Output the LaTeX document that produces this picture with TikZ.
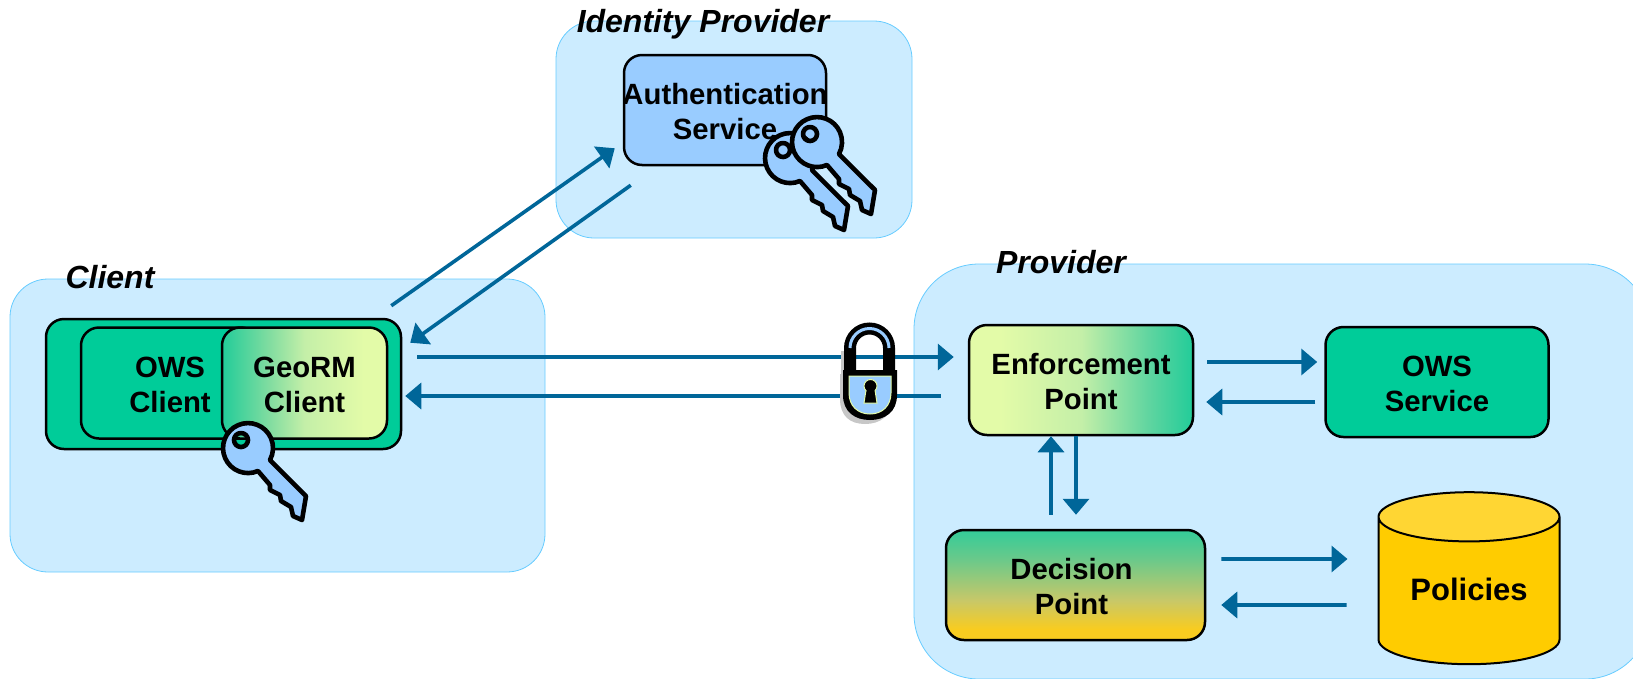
\documentclass[tikz,border=0pt]{standalone}
\usepackage{fontspec}
\setmainfont{Liberation Sans}
\usetikzlibrary{arrows.meta,shapes.geometric}

\definecolor{panelfill}{HTML}{CCECFF}
\definecolor{paneledge}{HTML}{66CCFF}
\definecolor{owsgreen}{HTML}{00CC99}
\definecolor{keyblue}{HTML}{99CCFF}
\definecolor{flowblue}{HTML}{006699}
\definecolor{softyellow}{HTML}{E3FBA8}
\definecolor{goldfill}{HTML}{FFCC00}
\definecolor{goldtop}{HTML}{FFD633}
\definecolor{goldsoft}{HTML}{F8CC20}
\definecolor{oliveband}{HTML}{C8C868}
\definecolor{sageband}{HTML}{6BC98A}
\definecolor{topgreen}{HTML}{33CC99}
\definecolor{deepmint}{HTML}{22CC99}
\definecolor{midmint}{HTML}{7FDCA0}
\definecolor{palemint}{HTML}{C4EFA8}
\definecolor{strongmint}{HTML}{60D5A0}

\pgfdeclarehorizontalshading{georm}{100bp}{color(0bp)=(deepmint); color(25bp)=(deepmint); color(39bp)=(midmint); color(50bp)=(palemint); color(68bp)=(softyellow); color(100bp)=(softyellow)}
\pgfdeclarehorizontalshading{enforce}{100bp}{color(0bp)=(softyellow); color(32bp)=(softyellow); color(50bp)=(palemint); color(65bp)=(strongmint); color(75bp)=(deepmint); color(100bp)=(deepmint)}
\pgfdeclareverticalshading{decide}{100bp}{color(0bp)=(goldsoft); color(30bp)=(goldsoft); color(43bp)=(oliveband); color(61.5bp)=(sageband); color(75bp)=(topgreen); color(100bp)=(topgreen)}

\newcommand{\lowertext}[1]{\raisebox{-1.8pt}[\height][\depth]{#1}}

\tikzset{
    panel/.style={draw=paneledge,fill=panelfill,line width=0.8pt,rounded corners=38pt,inner sep=0pt},
    box/.style={draw=black,line width=2.5pt,rounded corners=18pt,inner sep=0pt,align=center,
        font=\fontsize{29.3}{35}\selectfont\bfseries},
    paneltitle/.style={inner sep=0pt,font=\fontsize{32}{36}\selectfont\bfseries\itshape},
    flow/.style={draw=flowblue,line width=3.6pt,-{Triangle[length=16pt,width=26pt]}},
    keypic/.pic={
        \path[draw=black,fill=keyblue,line width=4.6pt,line join=round,even odd rule]
            (10,23) arc[start angle=-66.5,end angle=-388.6,radius=25pt]
            -- (58,48) -- (54,72) -- (45,68) -- (43,59) -- (33,53) -- (32,47) -- (22,42) -- (22,37) -- cycle
            (-7,-8) circle[radius=7pt];
    },
    lockpic/.pic={
        \path[fill=black!22] (-30,1) -- (22,1) -- (22,26) .. controls (22,43) and (10,51) .. (-5,51)
            .. controls (-20,51) and (-30,43) .. (-30,26) -- cycle;
        \path[draw=black!22,line width=12pt] (-23,4) -- (-23,-22);
        \path[fill=black] (-27,-3) -- (27,-3) -- (27,22) .. controls (27,39) and (15,47) .. (0,47)
            .. controls (-15,47) and (-27,39) .. (-27,22) -- cycle;
        \path[draw=black,line width=12pt] (-20,-1) -- (-20,-25) arc[start angle=180,end angle=0,radius=19.5pt] -- (19,-1);
        \path[draw=keyblue,line width=3pt] (-20,-25) arc[start angle=180,end angle=0,radius=19.5pt];
        \path[fill=keyblue,draw=softyellow,line width=1pt] (-21,3) -- (21,3) -- (21,20) .. controls (21,33) and (12,41) .. (0,41)
            .. controls (-12,41) and (-21,33) .. (-21,20) -- cycle;
        \path[fill=black,draw=softyellow,line width=1pt] (-4.1,17.6) -- (-6,30) -- (7,30) -- (5.1,17.6)
            arc[start angle=-45,end angle=225,radius=6.5pt] -- cycle;
    },
}

\begin{document}
\begin{tikzpicture}[x=1pt,y=-1pt]
                \path[use as bounding box,clip] (0,0) rectangle (1633,678);

                \node[panel,minimum width=535pt,minimum height=293pt] (clientpanel) at (277.5,425.5) {};
                \node[panel,minimum width=356pt,minimum height=217pt] (idppanel) at (734,129.5) {};
                \node[panel,rounded corners=65pt,minimum width=736pt,minimum height=415pt] (providerpanel) at (1282,471.5) {};

                \node[box,fill=owsgreen,minimum width=355pt,minimum height=130pt] (clientbox) at (223.5,384) {};
                \node[box,fill=owsgreen,minimum width=178pt,minimum height=111pt] (owsclient) at (170,383) {\lowertext{OWS}\\\lowertext{Client}};
                \node[box,shading=georm,minimum width=165pt,minimum height=111pt] (georm) at (304.5,383) {\lowertext{GeoRM}\\\lowertext{Client}};

                \node[box,fill=keyblue,minimum width=202pt,minimum height=110pt] (authservice) at (725,110) {\lowertext{\makebox[190pt]{Authentication}}\\\lowertext{Service}};

                \node[box,shading=enforce,minimum width=224pt,minimum height=110pt] (enforcement) at (1081,380) {\lowertext{Enforcement}\\\lowertext{Point}};
                \node[box,fill=owsgreen,minimum width=223pt,minimum height=110pt] (owsservice) at (1437,382) {\lowertext{OWS}\\\lowertext{Service}};
                \node[box,shading=decide,minimum width=259pt,minimum height=110pt] (decision) at (1075.5,585) {\lowertext{Decision}\kern8pt\\\lowertext{Point}\kern8pt};
                \node[cylinder,shape border rotate=90,aspect=0.42,draw=black,line width=2pt,inner sep=0pt,
                    cylinder uses custom fill,cylinder body fill=goldfill,cylinder end fill=goldtop,
                    minimum width=181pt,minimum height=172pt,font=\fontsize{31}{36}\selectfont\bfseries] (policies) at (1469,591) {\raisebox{2pt}[\height][\depth]{Policies}};

                \node[paneltitle] (clienttitle) at (110,277) {Client};
                \node[paneltitle] (idptitle) at (703,24) {Identity Provider};
                \node[paneltitle] (providertitle) at (1061,262) {Provider};

                \draw[flow] ([xshift=-11pt,yshift=12pt]clientbox.north east) -- ([xshift=-8pt,yshift=18pt]authservice.south west);
                \draw[flow] ([xshift=8pt,yshift=-19pt]authservice.south west) -- ([xshift=8pt,yshift=-25pt]clientbox.north east);
                \draw[flow] ([xshift=15pt,yshift=27pt]clientbox.east) -- ([xshift=-14pt,yshift=23pt]enforcement.west);
                \draw[flow] ([xshift=-27pt,yshift=-16pt]enforcement.west) -- ([xshift=3pt,yshift=-12pt]clientbox.east);
                \draw[flow] ([xshift=13pt,yshift=18pt]enforcement.east) -- ([xshift=-7pt,yshift=20pt]owsservice.west);
                \draw[flow] ([xshift=-9pt,yshift=-20pt]owsservice.west) -- ([xshift=12pt,yshift=-22pt]enforcement.east);
                \draw[flow] ([xshift=-24.5pt,yshift=14pt]decision.north) -- ([xshift=-30pt]enforcement.south);
                \draw[flow] ([xshift=-5pt]enforcement.south) -- ([xshift=0.5pt,yshift=14pt]decision.north);
                \draw[flow] ([xshift=15pt,yshift=26pt]decision.east) -- ([xshift=-30pt,yshift=32pt]policies.west);
                \draw[flow] ([xshift=-31pt,yshift=-14pt]policies.west) -- ([xshift=15pt,yshift=-20pt]decision.east);

                \pic at (870,373) {lockpic};
                \pic at (248,448) {keypic};
                \pic at (790,158) {keypic};
                \pic at (817,142) {keypic};
\end{tikzpicture}
\end{document}
